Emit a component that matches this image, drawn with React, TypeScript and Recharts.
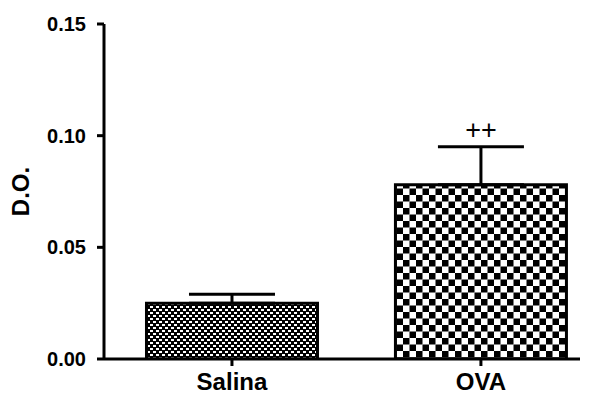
import React from 'react';
import {
  ComposedChart, Bar, XAxis, YAxis, ErrorBar, ReferenceDot, Cell
} from 'recharts';

const groups = ['Salina', 'OVA'];
const means = [0.025, 0.078];
const sems = [0.004, 0.017];
const marks = ['', '++'];
const yTicks = [0, 0.05, 0.1, 0.15];

const data = groups.map((name, i) => ({
  x: i,
  name,
  mean: means[i],
  err: [0, sems[i]],
  top: means[i] + sems[i],
}));

const FONT = '"Liberation Sans", Arial, sans-serif';
const fills = ['url(#fineCheck)', 'url(#coarseCheck)'];

export default function App() {
  return (
    <div style={{ position: 'absolute', left: 0, top: 0, background: '#fff' }}>
      <ComposedChart
        width={597}
        height={394}
        data={data}
        margin={{ top: 24, right: 17, bottom: 0, left: 0 }}
      >
        <defs>
          <pattern id="fineCheck" patternUnits="userSpaceOnUse" width={6} height={6}>
            <rect width={6} height={6} fill="#000" />
            <rect x={0} y={0} width={3} height={2} fill="#fff" />
            <rect x={3} y={3} width={3} height={2} fill="#fff" />
          </pattern>
          <pattern id="coarseCheck" patternUnits="userSpaceOnUse" width={13} height={13}>
            <rect width={13} height={13} fill="#fff" />
            <rect x={0} y={0} width={6.5} height={6.5} fill="#000" />
            <rect x={6.5} y={6.5} width={6.5} height={6.5} fill="#000" />
          </pattern>
        </defs>
        <XAxis
          dataKey="x"
          type="number"
          domain={[-0.514, 1.398]}
          ticks={[0, 1]}
          allowDataOverflow
          tickFormatter={(v: number) => groups[v] ?? ''}
          axisLine={{ stroke: '#000', strokeWidth: 3 }}
          tickLine={{ stroke: '#000', strokeWidth: 3 }}
          tickSize={7}
          tickMargin={7}
          height={35}
          tick={{ fontSize: 24, fontWeight: 700, fill: '#000', fontFamily: FONT }}
        />
        <YAxis
          domain={[0, 0.15]}
          ticks={yTicks}
          allowDataOverflow
          tickFormatter={(v: number) => v.toFixed(2)}
          axisLine={{ stroke: '#000', strokeWidth: 3 }}
          tickLine={{ stroke: '#000', strokeWidth: 3 }}
          tickSize={7}
          tickMargin={11}
          width={104}
          tick={{ fontSize: 20, fontWeight: 700, fill: '#000', fontFamily: FONT }}
          label={{
            value: 'D.O.',
            angle: -90,
            position: 'insideLeft',
            offset: 20,
            style: { fontSize: 24, fontWeight: 700, fill: '#000', fontFamily: FONT, textAnchor: 'middle' },
          }}
        />
        <Bar dataKey="mean" barSize={171} stroke="#000" strokeWidth={3} isAnimationActive={false}>
          {data.map((_, i) => <Cell key={i} fill={fills[i]} />)}
          <ErrorBar dataKey="err" width={43} stroke="#000" strokeWidth={3} direction="y" />
        </Bar>
        {data.map((d, i) => marks[i] ? (
          <ReferenceDot
            key={i}
            x={d.x}
            y={d.top}
            r={0}
            fill="none"
            stroke="none"
            label={{
              value: marks[i],
              position: 'top',
              offset: 8,
              style: { fontSize: 27, fontWeight: 400, fill: '#000', fontFamily: FONT },
            }}
          />
        ) : null)}
      </ComposedChart>
    </div>
  );
}
